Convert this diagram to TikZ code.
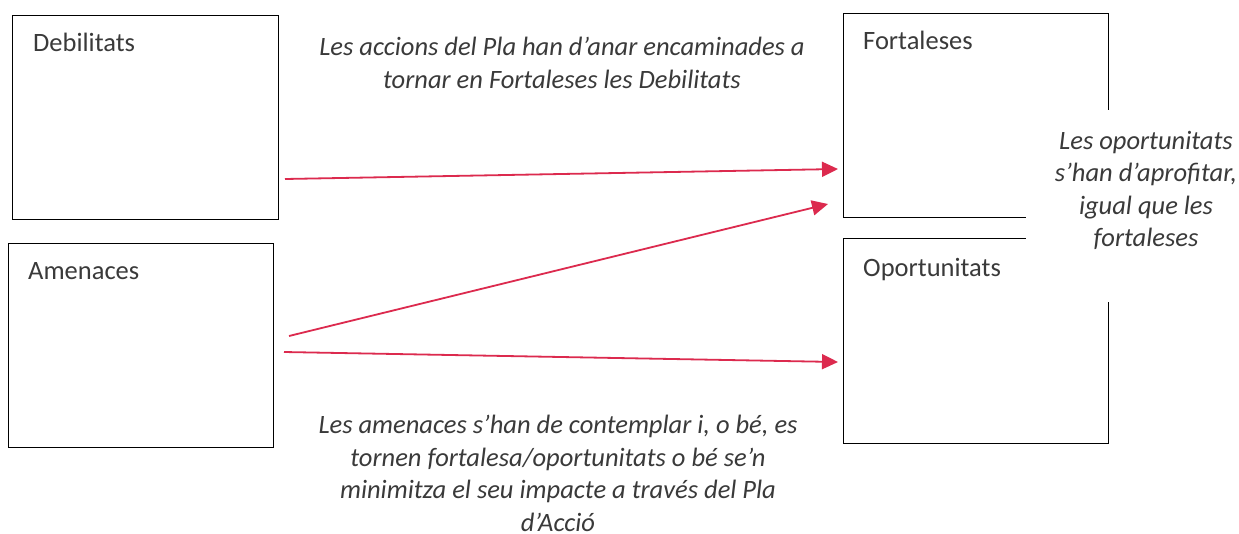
\documentclass[tikz,border=0pt]{standalone}
\usepackage{fontspec}
\setmainfont{Carlito}
\usetikzlibrary{arrows.meta}
\definecolor{arr}{HTML}{DC2A4E}
\definecolor{txt}{HTML}{3A3A3A}
\tikzset{
  box/.style={draw=black, line width=1.1pt, minimum width=265pt, minimum height=204pt, anchor=north west, inner sep=0pt},
  lbl/.style={anchor=base west, inner sep=0pt, text=txt, font=\fontsize{26.5}{30}\selectfont},
  note/.style={align=center, inner sep=0pt, text=txt, font=\fontsize{26.5}{32.5}\selectfont\itshape},
  conn/.style={draw=arr, line width=1.8pt, -{Triangle[length=16pt,width=15pt]}}
}
\begin{document}
\begin{tikzpicture}[x=1pt,y=-1pt]
\useasboundingbox[fill=white] (0,0) rectangle (1239,533);
% boxes
\node[box, minimum width=266pt] (deb) at (12,15) {};
\node[box] (ame) at (8,243) {};
\node[box] (fort) at (843,13) {};
\node[box, minimum height=205pt] (oport) at (843,238) {};
% labels
\node[lbl] (tdeb) at (33,51) {Debilitats};
\node[lbl] (tfort) at (863,49) {Fortaleses};
\node[lbl] (tame) at (28,279) {Amenaces};
\node[lbl] (topo) at (863,276) {Oportunitats};
% right note with white background
\fill[white] (1026,110) rectangle (1239,302);
\node[note, anchor=north] (nright) at (1146,131) {Les oportunitats\\s’han d’aprofitar,\\igual que les\\fortaleses};
% notes
\node[note, anchor=north] (ntop) at (562,37) {Les accions del Pla han d’anar encaminades a\\tornar en Fortaleses les Debilitats};
\node[note, anchor=north] (nbot) at (558,415) {Les amenaces s’han de contemplar i, o bé, es\\tornen fortalesa/oportunitats o bé se’n\\minimitza el seu impacte a través del Pla\\d’Acció};
% connector ends
\coordinate (a1s) at (285,179);
\coordinate (a1e) at (838,169);
\coordinate (a2s) at (289,336);
\coordinate (a2e) at (828,204);
\coordinate (a3s) at (284,352);
\coordinate (a3e) at (838,362);
\draw[conn] (a1s) -- (a1e);
\draw[conn] (a2s) -- (a2e);
\draw[conn] (a3s) -- (a3e);
\end{tikzpicture}
\end{document}
